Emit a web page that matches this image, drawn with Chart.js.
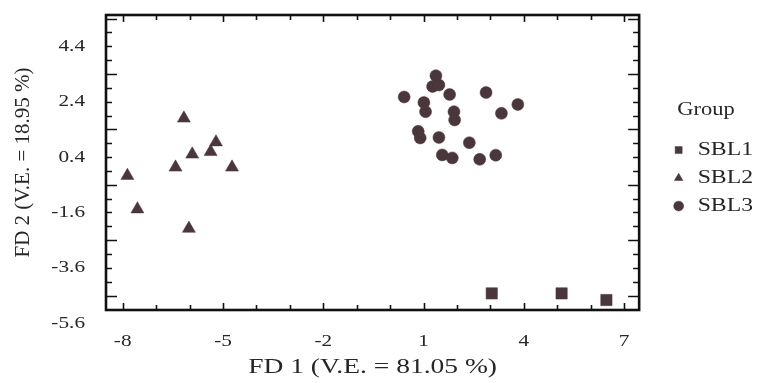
<!DOCTYPE html>
<html>
<head>
<meta charset="utf-8">
<script src="https://cdn.jsdelivr.net/npm/chart.js@4/dist/chart.umd.min.js"></script>
<style>
  html, body { margin: 0; padding: 0; background: #ffffff; }
  #wrap { width: 762px; height: 383px; }
</style>
</head>
<body>
<div id="wrap"><canvas id="chart" width="762" height="383"></canvas></div>
<script>
// Discriminant scores per group (FD 1, FD 2)
const groupNames = ['SBL1', 'SBL2', 'SBL3'];
const sbl1X = [3.04, 5.13, 6.47];
const sbl1Y = [-4.52, -4.52, -4.76];
const sbl2X = [-6.17, -5.21, -5.37, -5.92, -6.42, -4.73, -7.86, -7.56, -6.02];
const sbl2Y = [1.80, 0.94, 0.59, 0.50, 0.03, 0.03, -0.27, -1.48, -2.18];
const sbl3X = [0.42, 1.01, 1.06, 1.37, 1.27, 1.46, 1.78, 1.91, 1.93, 2.87,
               3.82, 3.33, 0.84, 0.90, 1.46, 2.37, 1.56, 1.86, 2.68, 3.16];
const sbl3Y = [2.57, 2.37, 2.04, 3.34, 2.95, 3.00, 2.66, 2.04, 1.74, 2.73,
               2.30, 1.98, 1.33, 1.09, 1.11, 0.92, 0.48, 0.37, 0.32, 0.47];
const xTickValues = [-8, -5, -2, 1, 4, 7];
const yTickValues = [4.4, 2.4, 0.4, -1.6, -3.6, -5.6];
const xTitle = 'FD 1 (V.E. = 81.05 %)';
const yTitle = 'FD 2 (V.E. = 18.95 %)';

const MARK = '#4a373b';
const INK = '#262626';
const SERIF = "'Liberation Serif', 'Times New Roman', serif";
const WIDE = 1.25; // horizontal widening of upright text

function pairs(xs, ys) { return xs.map((x, i) => ({ x: x, y: ys[i] })); }

// Upright labels are drawn slightly widened, rotated ones are left as is
const wideText = {
  id: 'wideText',
  beforeInit(chart) {
    const ctx = chart.ctx;
    const fill = ctx.fillText.bind(ctx);
    ctx.fillText = function (text, x, y, maxWidth) {
      const m = ctx.getTransform();
      if (Math.abs(m.b) > 1e-6 || Math.abs(m.c) > 1e-6) {
        return maxWidth === undefined ? fill(text, x, y) : fill(text, x, y, maxWidth);
      }
      ctx.save();
      ctx.translate(x, y);
      ctx.scale(WIDE, 1);
      if (maxWidth === undefined) fill(text, 0, 0); else fill(text, 0, 0, maxWidth / WIDE);
      ctx.restore();
    };
  }
};

// Box frame with inward tick marks on all four sides
const frameBox = {
  id: 'frameBox',
  afterDatasetsDraw(chart) {
    const { ctx, chartArea: a, scales: { x, y } } = chart;
    ctx.save();
    ctx.strokeStyle = '#111111';
    ctx.lineWidth = 1.6;
    ctx.beginPath();
    for (let v = Math.ceil(x.min); v <= Math.floor(x.max); v++) {
      const px = Math.round(x.getPixelForValue(v)) + 0.5;
      const len = xTickValues.includes(v) ? 7 : 5;
      ctx.moveTo(px, a.bottom); ctx.lineTo(px, a.bottom - len);
      ctx.moveTo(px, a.top); ctx.lineTo(px, a.top + len);
    }
    for (let k = -30; k <= 30; k++) {
      const v = 4.4 + 0.5 * k;
      if (v <= y.min + 0.2 || v >= y.max) continue;
      const py = Math.round(y.getPixelForValue(v)) + 0.5;
      const len = (((k % 4) + 4) % 4 === 2) ? 11 : 6;
      ctx.moveTo(a.left, py); ctx.lineTo(a.left + len, py);
      ctx.moveTo(a.right, py); ctx.lineTo(a.right - len, py);
    }
    ctx.stroke();
    ctx.lineWidth = 2.6;
    ctx.strokeRect(a.left, a.top, a.right - a.left, a.bottom - a.top);
    ctx.restore();
  }
};

const datasets = [
  { label: groupNames[0], data: pairs(sbl1X, sbl1Y), pointStyle: 'rect', pointRadius: 8 },
  { label: groupNames[1], data: pairs(sbl2X, sbl2Y), pointStyle: 'triangle', pointRadius: 7.5 },
  { label: groupNames[2], data: pairs(sbl3X, sbl3Y), pointStyle: 'circle', pointRadius: 6 }
].map(d => Object.assign(d, {
  backgroundColor: MARK, borderColor: MARK, borderWidth: 0.5,
  pointHoverRadius: d.pointRadius, clip: false
}));

new Chart(document.getElementById('chart'), {
  type: 'scatter',
  data: { datasets: datasets },
  plugins: [wideText, frameBox],
  options: {
    responsive: false,
    animation: false,
    devicePixelRatio: 1,
    events: [],
    layout: { padding: { top: 15, right: 10, bottom: 0, left: 0 } },
    scales: {
      x: {
        type: 'linear', position: 'bottom', min: -8.5, max: 7.45,
        grid: { display: false }, border: { display: false },
        afterBuildTicks(s) { s.ticks = xTickValues.map(v => ({ value: v })); },
        afterFit(s) { s.height = 73; s.paddingLeft = 0; s.paddingRight = 0; },
        ticks: {
          autoSkip: false, padding: 13, color: INK,
          font: { family: SERIF, size: 17 },
          callback: v => String(v)
        },
        title: {
          display: true, text: xTitle, color: INK,
          font: { family: SERIF, size: 22 }, padding: { top: 0, bottom: 3 }
        }
      },
      y: {
        type: 'linear', position: 'left', min: -5.12, max: 5.53,
        grid: { display: false }, border: { display: false },
        afterBuildTicks(s) { s.ticks = yTickValues.map(v => ({ value: v })); },
        afterFit(s) { s.width = 106; s.paddingTop = 0; s.paddingBottom = 0; },
        ticks: {
          autoSkip: false, padding: 13, color: INK,
          font: { family: SERIF, size: 17 },
          callback: v => Number(v).toFixed(1)
        },
        title: {
          display: true, text: yTitle, color: INK,
          font: { family: SERIF, size: 21 }, padding: { top: 11, bottom: 0 }
        }
      },
      gap: {
        type: 'linear', position: 'right', display: true,
        grid: { display: false }, border: { display: false },
        ticks: { display: false },
        afterFit(s) { s.width = 21; s.paddingTop = 0; s.paddingBottom = 0; }
      }
    },
    plugins: {
      tooltip: { enabled: false },
      legend: {
        display: true, position: 'right', align: 'start',
        title: {
          display: true, text: 'Group', color: INK, position: 'center',
          font: { family: SERIF, size: 18 }, padding: { top: 86, bottom: 9 }
        },
        labels: {
          usePointStyle: true, boxWidth: 19, boxHeight: 7, padding: 9,
          color: INK, font: { family: SERIF, size: 19 }
        }
      }
    }
  }
});
</script>
</body>
</html>
